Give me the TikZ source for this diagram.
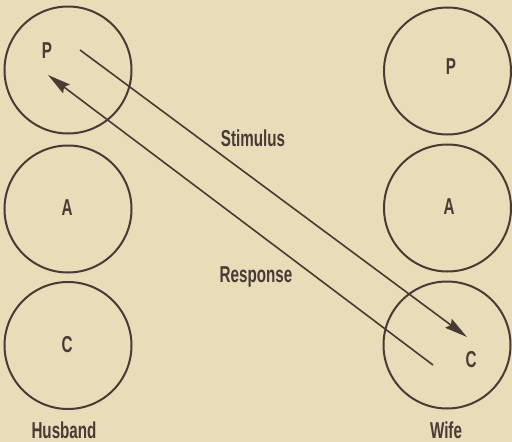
\documentclass[tikz,border=0pt]{standalone}
\usepackage{fontspec}
\setmainfont{Liberation Sans}[FakeStretch=0.66]
\usetikzlibrary{arrows.meta}
\definecolor{paper}{HTML}{E8DCB9}
\definecolor{ink}{HTML}{463B35}
\tikzset{
  ego/.style={circle, draw=ink, line width=2pt, minimum size=127pt, inner sep=0pt},
  lbl/.style={text=ink, font=\fontsize{23}{23}\selectfont\bfseries, inner sep=0pt},
  letter/.style={text=ink, font=\fontsize{23}{23}\selectfont\bfseries, inner sep=0pt},
  trans/.style={draw=ink, line width=1.6pt, -{Stealth[length=23pt, width=11pt, inset=3pt]}}
}
\begin{document}
\begin{tikzpicture}[x=1pt, y=-1pt]
\fill[paper] (0,0) rectangle (512,442);
\useasboundingbox (0,0) rectangle (512,442);
% Husband
\node[ego] (hP) at (68,70) {};
\node[ego] (hA) at (68,209) {};
\node[ego] (hC) at (68,345.5) {};
\node[letter] (hPl) at (47,51) {P};
\node[letter] (hAl) at (67,208) {A};
\node[letter] (hCl) at (67,345) {C};
\node[lbl] (husband) at (64,430) {Husband};
% Wife
\node[ego] (wP) at (447.5,71) {};
\node[ego] (wA) at (447.5,208) {};
\node[ego] (wC) at (447,345) {};
\node[letter] (wPl) at (451,67) {P};
\node[letter] (wAl) at (449,207) {A};
\node[letter] (wCl) at (471,360) {C};
\node[lbl] (wife) at (446,430) {Wife};
% transactions
\coordinate (s1) at (80,50);
\coordinate (s2) at (467,337);
\coordinate (r1) at (433,365);
\coordinate (r2) at (48,75);
\draw[trans] (s1) -- (s2);
\draw[trans] (r1) -- (r2);
\node[lbl] (stim) at (253,138) {Stimulus};
\node[lbl] (resp) at (256,277) {Response};
\end{tikzpicture}
\end{document}
